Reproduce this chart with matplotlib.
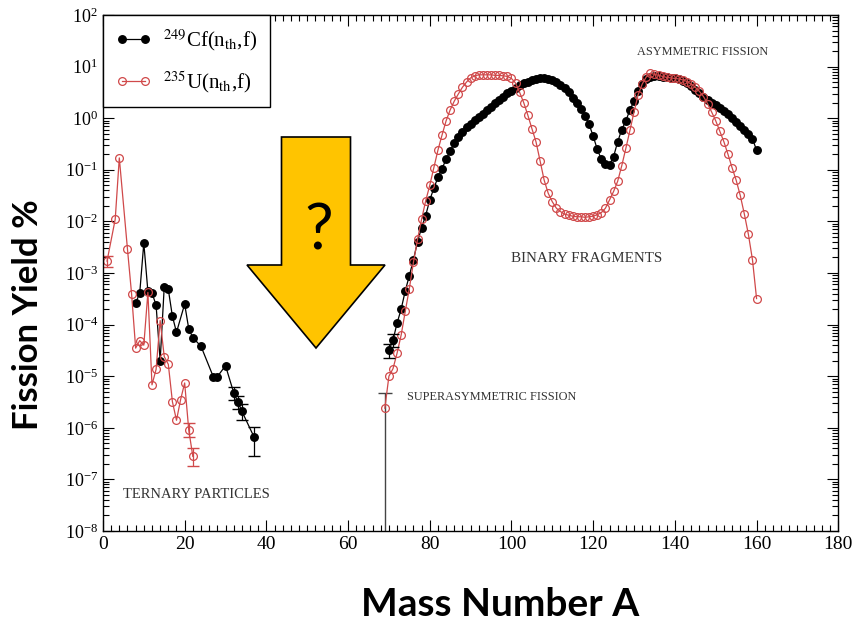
import matplotlib
matplotlib.use('Agg')
import matplotlib.pyplot as plt
from matplotlib.patches import FancyArrow
from matplotlib.ticker import MultipleLocator, LogLocator, NullFormatter
import numpy as np

plt.rcParams['font.family'] = ['Liberation Serif', 'DejaVu Serif']
plt.rcParams['mathtext.fontset'] = 'stix'

# --- 249Cf(nth,f): ternary particles (yield in %) ---
cf_tern_A = [8, 9, 10, 11, 12, 13, 14, 15, 16, 17, 18, 20, 21, 22, 24, 27, 28, 30, 32, 33, 34, 37]
cf_tern_y = [2.6e-4, 4.1e-4, 3.8e-3, 4.4e-4, 4.1e-4, 2.4e-4, 2.0e-5, 5.4e-4, 4.8e-4, 1.45e-4,
             7.1e-5, 2.5e-4, 8.3e-5, 5.6e-5, 3.8e-5, 9.8e-6, 9.8e-6, 1.6e-5, 4.8e-6, 3.2e-6,
             2.1e-6, 6.6e-7]
cf_tern_err_A = [32, 33, 34, 37]
cf_tern_err_lo = [3.5e-6, 2.3e-6, 1.4e-6, 2.8e-7]
cf_tern_err_hi = [6.3e-6, 4.2e-6, 2.9e-6, 1.05e-6]

# --- 235U(nth,f): ternary particles ---
u_tern_A = [1, 3, 4, 6, 7, 8, 9, 10, 11, 12, 13, 14, 15, 16, 17, 18, 19, 20, 21, 22]
u_tern_y = [1.7e-3, 1.1e-2, 0.17, 2.9e-3, 4.0e-4, 3.5e-5, 4.9e-5, 4.0e-5, 4.2e-4, 6.8e-6,
            1.35e-5, 1.2e-4, 2.4e-5, 1.7e-5, 3.2e-6, 1.4e-6, 3.5e-6, 7.4e-6, 9.1e-7, 2.8e-7]
u_tern_err_A = [1, 21, 22]
u_tern_err_lo = [1.3e-3, 6.5e-7, 1.8e-7]
u_tern_err_hi = [2.1e-3, 1.25e-6, 4.0e-7]

# --- 249Cf(nth,f): binary fragments, A = 70..160 ---
cf_bin_A = list(range(70, 161))
cf_bin_y = [3.2e-5, 5.0e-5, 1.07e-4, 2.0e-4, 4.5e-4, 8.9e-4, 1.8e-3, 4.0e-3, 7.6e-3, 1.3e-2,
            2.6e-2, 4.4e-2, 7.1e-2, 0.105, 0.16, 0.23, 0.33, 0.44, 0.55, 0.66,
            0.78, 0.91, 1.07, 1.23, 1.45, 1.66, 1.95, 2.24, 2.57, 3.02,
            3.39, 3.89, 4.37, 4.79, 5.13, 5.50, 5.75, 5.89, 5.89, 5.75,
            5.50, 5.01, 4.47, 3.80, 3.16, 2.51, 2.00, 1.51, 1.12, 0.76,
            0.45, 0.25, 0.16, 0.13, 0.126, 0.18, 0.35, 0.60, 0.89, 1.45,
            2.14, 3.31, 4.57, 5.75, 6.31, 6.46, 6.46, 6.31, 6.17, 6.03,
            5.89, 5.62, 5.25, 4.79, 4.17, 3.55, 3.02, 2.63, 2.29, 2.00,
            1.78, 1.58, 1.38, 1.20, 1.02, 0.85, 0.72, 0.60, 0.49, 0.40,
            0.24]
cf_bin_err_A = [70, 71]
cf_bin_err_lo = [2.3e-5, 3.7e-5]
cf_bin_err_hi = [4.3e-5, 6.5e-5]

# --- 235U(nth,f): binary fragments, A = 69..160 ---
u_bin_A = list(range(69, 161))
u_bin_y = [2.4e-6,
           1.0e-5, 1.4e-5, 2.8e-5, 6.3e-5, 1.8e-4, 5.0e-4, 1.6e-3, 4.5e-3, 1.1e-2, 2.5e-2,
           5.0e-2, 0.11, 0.24, 0.47, 0.89, 1.45, 2.14, 2.95, 3.98, 5.01,
           6.03, 6.61, 6.92, 6.92, 6.92, 6.92, 6.76, 6.76, 6.61, 6.46,
           5.89, 4.79, 3.16, 2.00, 1.15, 0.63, 0.35, 0.15, 0.063, 0.035,
           0.024, 0.018, 0.0155, 0.0138, 0.0132, 0.0126, 0.0123, 0.0123, 0.0120, 0.0123,
           0.0126, 0.0135, 0.0148, 0.018, 0.026, 0.038, 0.060, 0.12, 0.26, 0.58,
           1.32, 2.82, 4.57, 6.31, 7.41, 7.08, 6.76, 6.46, 6.17, 6.03,
           5.89, 5.75, 5.50, 5.13, 4.57, 3.98, 3.31, 2.63, 1.91, 1.32,
           0.89, 0.56, 0.35, 0.20, 0.11, 0.063, 0.032, 0.014, 0.0056, 0.0018,
           3.2e-4]

# superasymmetric point whose lower error reaches zero
sa_A = [69]
sa_y = [2.4e-6]
sa_hi = [4.8e-6]

region_labels = ['TERNARY PARTICLES', 'SUPERASYMMETRIC FISSION', 'BINARY FRAGMENTS', 'ASYMMETRIC FISSION']
region_pos = [(5, 5.2e-8), (74.5, 4.0e-6), (100, 1.9e-3), (130.7, 19)]
region_size = [10.5, 8.8, 10.8, 8.8]

CF_COLOR = 'black'
U_COLOR = '#d0494a'


def err_bars(A, y, sel_A, lo, hi):
    y = np.asarray(y)[np.isin(A, sel_A)]
    return y, [y - np.asarray(lo), np.asarray(hi) - y]


fig = plt.figure(figsize=(8.58, 6.24), dpi=100)
ax = fig.add_axes([0.120, 0.149, 0.857, 0.827])

cf_style = dict(color=CF_COLOR, lw=0.9, marker='o', ms=5.4, mfc=CF_COLOR, mec=CF_COLOR)
u_style = dict(color=U_COLOR, lw=0.9, marker='o', ms=5.6, mfc='none', mec=U_COLOR, mew=0.9)

# superasymmetric error bar (drawn first so markers sit on top)
ax.errorbar(sa_A, sa_y, yerr=[np.asarray(sa_y) - 1e-10, np.asarray(sa_hi) - np.asarray(sa_y)],
            fmt='none', ecolor='#444444', elinewidth=1.0, capsize=5)

ax.plot(cf_tern_A, cf_tern_y, **cf_style)
ax.plot(cf_bin_A, cf_bin_y, label=r'$^{249}$Cf(n$_{\rm th}$,f)', **cf_style)
ax.plot(u_tern_A, u_tern_y, **u_style)
ax.plot(u_bin_A, u_bin_y, label=r'$^{235}$U(n$_{\rm th}$,f)', **u_style)

for A, y, sel, lo, hi, col in [
        (cf_tern_A, cf_tern_y, cf_tern_err_A, cf_tern_err_lo, cf_tern_err_hi, CF_COLOR),
        (cf_bin_A, cf_bin_y, cf_bin_err_A, cf_bin_err_lo, cf_bin_err_hi, CF_COLOR),
        (u_tern_A, u_tern_y, u_tern_err_A, u_tern_err_lo, u_tern_err_hi, U_COLOR)]:
    ysel, yerr = err_bars(A, y, sel, lo, hi)
    ax.errorbar(sel, ysel, yerr=yerr, fmt='none', ecolor=col, elinewidth=0.9, capsize=4)

for txt, (x, y), fs in zip(region_labels, region_pos, region_size):
    ax.text(x, y, txt, fontsize=fs, color='#333333', va='center', ha='left')

ax.set_xlim(0, 180)
ax.set_yscale('log')
ax.set_ylim(1e-8, 1e2)
ax.xaxis.set_major_locator(MultipleLocator(20))
ax.xaxis.set_minor_locator(MultipleLocator(2))
ax.yaxis.set_major_locator(LogLocator(base=10, numticks=20))
ax.yaxis.set_minor_locator(LogLocator(base=10, subs=np.arange(2, 10), numticks=20))
ax.yaxis.set_minor_formatter(NullFormatter())
ax.tick_params(which='both', direction='in', top=True, right=True, labelsize=14, width=0.8)
ax.tick_params(which='major', length=8)
ax.tick_params(which='minor', length=4)
ax.tick_params(axis='y', labelsize=13)
for sp in ax.spines.values():
    sp.set_linewidth(1.0)

leg = ax.legend(loc='upper left', borderaxespad=0, fontsize=15, numpoints=2,
                fancybox=False, edgecolor='black', framealpha=1,
                handlelength=1.7, handletextpad=0.6, borderpad=0.6, labelspacing=0.75)
leg.get_frame().set_linewidth(1.0)

# yellow question arrow
arrow = FancyArrow(316 / 858, 1 - 137 / 624, 0, -(348 - 137) / 624,
                   width=69 / 858, head_width=138 / 858, head_length=83 / 624,
                   length_includes_head=True, transform=fig.transFigure,
                   facecolor='#ffc400', edgecolor='black', lw=1.2, zorder=10)
fig.patches.append(arrow)
fig.text(319 / 858, 1 - 232 / 624, '?', fontsize=46, family='Lato',
         ha='center', va='center', zorder=11)

fig.text(0.033, 0.495, 'Fission Yield %', rotation=90, fontsize=25, fontweight='bold',
         family='Lato', ha='center', va='center')
fig.text(0.583, 0.032, 'Mass Number A', fontsize=28, fontweight='bold',
         family='Lato', ha='center', va='center')

fig.savefig('out.png', dpi=100)
